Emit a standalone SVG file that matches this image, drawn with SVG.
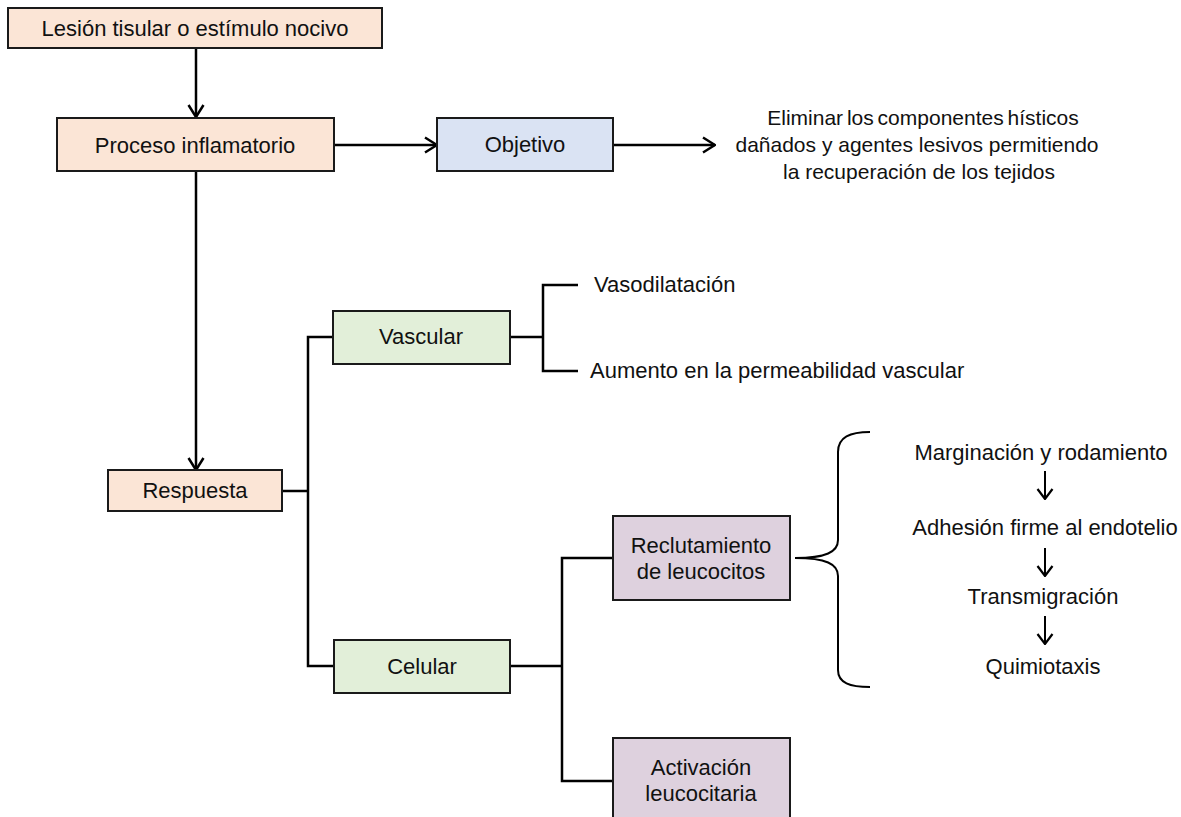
<svg xmlns="http://www.w3.org/2000/svg" width="1181" height="817" viewBox="0 0 1181 817">
<style>
.box{stroke:#1a1a1a;stroke-width:2}
.peach{fill:#FBE5D6}
.blue{fill:#DAE3F3}
.green{fill:#E2EFD9}
.purple{fill:#DED1DE}
text{font-family:"Liberation Sans",Arial,sans-serif;font-size:22px;fill:#111}
.c{text-anchor:middle}
.s21{font-size:21px}
.ln{fill:none;stroke:#000;stroke-width:2.5}
.thin{fill:none;stroke:#000;stroke-width:2}
</style>
<defs>
<marker id="arr" viewBox="0 0 14 18" refX="13" refY="9" markerWidth="14" markerHeight="18" markerUnits="userSpaceOnUse" orient="auto">
<path d="M1,1.5 L13,9 L1,16.5" fill="none" stroke="#000" stroke-width="2.5"/>
</marker>
<marker id="arr2" viewBox="0 0 12 18" refX="11" refY="9" markerWidth="12" markerHeight="18" markerUnits="userSpaceOnUse" orient="auto">
<path d="M1,1.5 L11,9 L1,16.5" fill="none" stroke="#000" stroke-width="2.2"/>
</marker>
</defs>
<rect width="1181" height="817" fill="#fff"/>

<g id="connectors">
<path class="ln" d="M196,48 V117" marker-end="url(#arr)"/>
<path class="ln" d="M334,145 H437" marker-end="url(#arr)"/>
<path class="ln" d="M613,145 H715" marker-end="url(#arr)"/>
<path class="ln" d="M196,171 V470" marker-end="url(#arr)"/>
<path class="ln" d="M282,491 H308"/>
<path class="ln" d="M333,337 H308 V666 H334"/>
<path class="ln" d="M510,337 H543"/>
<path class="ln" d="M578,285 H543 V371 H578"/>
<path class="ln" d="M510,666 H562"/>
<path class="ln" d="M613,558 H562 V781 H613"/>
<path class="thin" d="M870,432 C850,432 838,437 838,452 L838,540 C838,552 826,558 795,558 C826,558 838,564 838,576 L838,670 C838,683 850,687 870,687"/>
<path class="thin" d="M1045,471 V499" marker-end="url(#arr2)"/>
<path class="thin" d="M1045,548 V576" marker-end="url(#arr2)"/>
<path class="thin" d="M1045,616 V644" marker-end="url(#arr2)"/>
</g>

<g id="lesion">
<rect class="box peach" x="8" y="8" width="374" height="40"/>
<text class="c" x="195" y="36">Lesión tisular o estímulo nocivo</text>
</g>
<g id="proceso">
<rect class="box peach" x="57" y="118" width="277" height="53"/>
<text class="c" x="195" y="153">Proceso inflamatorio</text>
</g>
<g id="objetivo">
<rect class="box blue" x="437" y="118" width="176" height="53"/>
<text class="c" x="525" y="152">Objetivo</text>
</g>
<g id="objetivo-texto">
<text class="c s21" x="923" y="125" word-spacing="-2">Eliminar los componentes hísticos</text>
<text class="c s21" x="917" y="152">dañados y agentes lesivos permitiendo</text>
<text class="c s21" x="919" y="179">la recuperación de los tejidos</text>
</g>
<g id="respuesta">
<rect class="box peach" x="108" y="470" width="174" height="41"/>
<text class="c" x="195" y="498">Respuesta</text>
</g>
<g id="vascular">
<rect class="box green" x="333" y="311" width="177" height="53"/>
<text class="c" x="421" y="344">Vascular</text>
</g>
<g id="vasodilatacion">
<text x="594" y="292">Vasodilatación</text>
</g>
<g id="permeabilidad">
<text x="590" y="378">Aumento en la permeabilidad vascular</text>
</g>
<g id="celular">
<rect class="box green" x="334" y="640" width="176" height="53"/>
<text class="c" x="422" y="674">Celular</text>
</g>
<g id="reclutamiento">
<rect class="box purple" x="613" y="516" width="177" height="84"/>
<text class="c" x="701" y="553">Reclutamiento</text>
<text class="c" x="701" y="579">de leucocitos</text>
</g>
<g id="activacion">
<rect class="box purple" x="613" y="738" width="177" height="90"/>
<text class="c" x="701" y="775">Activación</text>
<text class="c" x="701" y="801">leucocitaria</text>
</g>
<g id="marginacion"><text class="c" x="1041" y="460">Marginación y rodamiento</text></g>
<g id="adhesion"><text class="c" x="1045" y="535">Adhesión firme al endotelio</text></g>
<g id="transmigracion"><text class="c" x="1043" y="604">Transmigración</text></g>
<g id="quimiotaxis"><text class="c" x="1043" y="674">Quimiotaxis</text></g>
</svg>
